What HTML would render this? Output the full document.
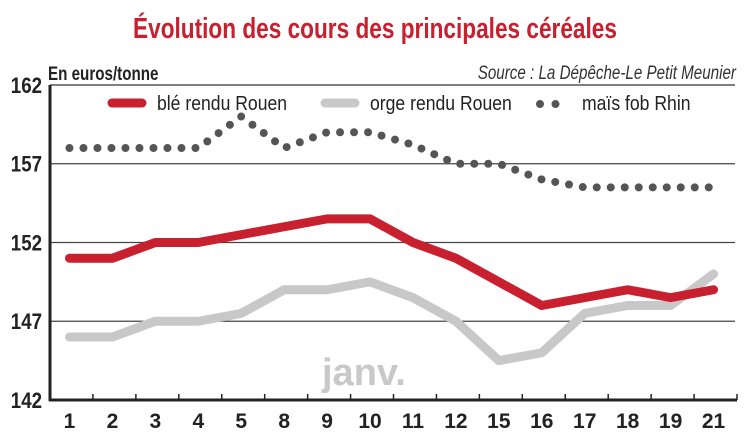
<!DOCTYPE html>
<html><head><meta charset="utf-8"><style>
html,body{margin:0;padding:0;background:#fff;}
svg text{font-family:"Liberation Sans",sans-serif;}
</style></head><body>
<svg width="747" height="439" viewBox="0 0 747 439" xmlns="http://www.w3.org/2000/svg">
<text x="375" y="38" text-anchor="middle" font-size="29" font-weight="bold" fill="#c8202e" transform="translate(375 0) scale(0.78 1) translate(-375 0)">Évolution des cours des principales céréales</text>
<text x="48" y="80" font-size="19" font-weight="bold" fill="#222" transform="translate(48 0) scale(0.8 1) translate(-48 0)">En euros/tonne</text>
<text x="736" y="79" text-anchor="end" font-size="19" font-style="italic" fill="#333" transform="translate(736 0) scale(0.8 1) translate(-736 0)">Source : La Dépêche-Le Petit Meunier</text>
<g id="grid"></g>
<g id="yticks"></g>
<g id="xaxis"></g>
<text x="322" y="385" font-size="38" font-weight="bold" fill="#c8c8c8">janv.</text>
<g id="series"></g>
<g>
<line x1="112" y1="103" x2="142" y2="103" stroke="#c8202e" stroke-width="9" stroke-linecap="round"/>
<text x="157" y="110" font-size="20" fill="#222" transform="translate(157 0) scale(0.88 1) translate(-157 0)">blé rendu Rouen</text>
<line x1="325" y1="103" x2="355" y2="103" stroke="#c8c8c8" stroke-width="9" stroke-linecap="round"/>
<text x="370" y="110" font-size="20" fill="#222" transform="translate(370 0) scale(0.88 1) translate(-370 0)">orge rendu Rouen</text>
<line x1="540" y1="104" x2="571" y2="104" stroke="#555" stroke-width="8" stroke-linecap="round" stroke-dasharray="0 15.5"/>
<text x="582" y="110" font-size="20" fill="#222" transform="translate(582 0) scale(0.88 1) translate(-582 0)">maïs fob Rhin</text>
</g>
</svg>
<script>
const categories=["1","2","3","4","5","8","9","10","11","12","15","16","17","18","19","21"];
const ble=[151,151,152,152,152.5,153,153.5,153.5,152,151,149.5,148,148.5,149,148.5,149];
const orge=[146,146,147,147,147.5,149,149,149.5,148.5,147,144.5,145,147.5,148,148,150];
const mais=[158,158,158,158,160,158,159,159,158.2,157,157,156,155.5,155.5,155.5,155.5];
const yTicks=[142,147,152,157,162];
const NS="http://www.w3.org/2000/svg";
const X0=50,X1=737,Y0=400,Y1=85,YMIN=142,YMAX=162;
const step=(X1-X0)/categories.length;
function xs(i){return X0+step*(i+0.5)-2;}
function ys(v){return Y0-(v-YMIN)/(YMAX-YMIN)*(Y0-Y1);}
function mk(tag,attrs,parent){const e=document.createElementNS(NS,tag);for(const k in attrs)e.setAttribute(k,attrs[k]);parent.appendChild(e);return e;}
const grid=document.getElementById('grid');
yTicks.forEach(t=>{if(t===YMIN)return;
 const l=mk('line',{x1:X0,x2:735,y1:ys(t),y2:ys(t),stroke:t===YMAX?'#555':'#444','stroke-width':t===YMAX?1.5:1.2},grid);
 
 
});
const yt=document.getElementById('yticks');
yTicks.forEach(t=>{
 const tx=mk('text',{x:42,y:ys(t)+8,'text-anchor':'end','font-size':22,'font-weight':'bold',fill:'#222',transform:`translate(42 0) scale(0.85 1) translate(-42 0)`},yt);
 tx.textContent=t;
 
 
});
const xa=document.getElementById('xaxis');
let a=mk('line',{x1:X0,x2:X0,y1:Y1,y2:Y0+1,stroke:'#222','stroke-width':3},xa);


a=mk('line',{x1:X0-1,x2:X1,y1:Y0,y2:Y0,stroke:'#222','stroke-width':3},xa);


categories.forEach((c,i)=>{
 const tk=mk('line',{x1:X0+step*(i+1),x2:X0+step*(i+1),y1:Y0-6,y2:Y0,stroke:'#222','stroke-width':1.5},xa);
 
 
 const tx=mk('text',{x:xs(i),y:428,'text-anchor':'middle','font-size':21,'font-weight':'bold',fill:'#222'},xa);
 tx.textContent=c;
 
 
});
const sg=document.getElementById('series');
function pts(arr){return arr.map((v,i)=>xs(i)+','+ys(v)).join(' ');}
let p=mk('polyline',{points:pts(orge),fill:'none',stroke:'#c8c8c8','stroke-width':9,'stroke-linejoin':'round','stroke-linecap':'round'},sg);


p=mk('polyline',{points:pts(ble),fill:'none',stroke:'#c8202e','stroke-width':9,'stroke-linejoin':'round','stroke-linecap':'round'},sg);


p=mk('polyline',{points:pts(mais),fill:'none',stroke:'#555','stroke-width':8,'stroke-linecap':'round','stroke-dasharray':'0 14'},sg);


</script>
</body></html>
